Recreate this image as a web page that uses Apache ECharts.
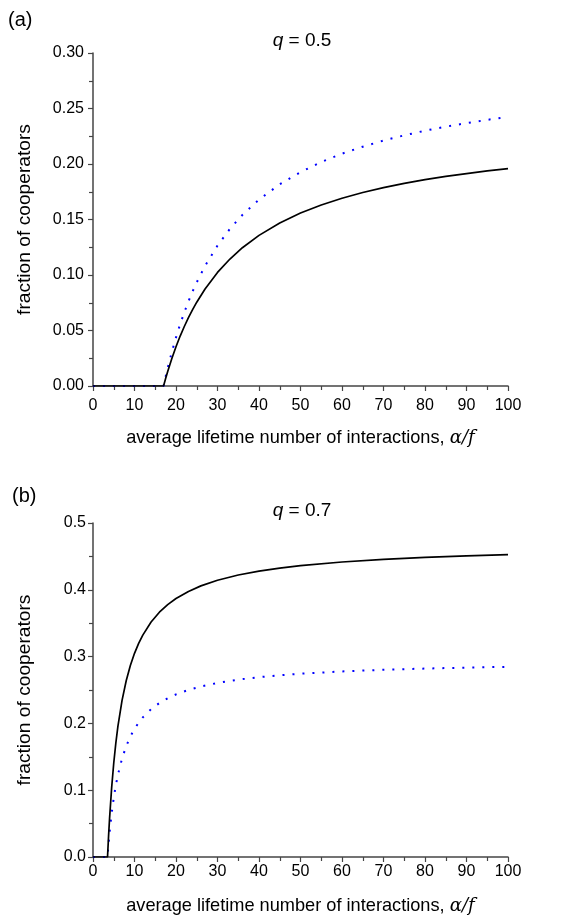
<!DOCTYPE html>
<html>
<head>
<meta charset="utf-8">
<script src="https://cdn.jsdelivr.net/npm/echarts@6/dist/echarts.min.js"></script>
<style>
html,body{margin:0;padding:0;background:#fff;}
#chart{width:563px;height:924px;}
</style>
</head>
<body>
<div id="chart"></div>
<script>
// Panel (a): q = 0.5
var xA = [0, 5, 10, 15, 17, 17.5, 18, 19, 20, 21, 22, 23, 24, 25, 27, 30, 33, 36, 40, 45, 50, 55, 60, 65, 70, 75, 80, 85, 90, 95, 100];
var blackA = [0, 0, 0, 0, 0, 0.0067, 0.0131, 0.0248, 0.0354, 0.0450, 0.0536, 0.0616, 0.0688, 0.0755, 0.0874, 0.1023, 0.1144, 0.1246, 0.1357, 0.1468, 0.1558, 0.1631, 0.1691, 0.1743, 0.1787, 0.1825, 0.1859, 0.1888, 0.1914, 0.1938, 0.1959];
var blueA = [0, 0, 0, 0, 0, 0.0083, 0.0162, 0.0307, 0.0438, 0.0556, 0.0664, 0.0762, 0.0852, 0.0934, 0.1082, 0.1265, 0.1416, 0.1541, 0.1679, 0.1817, 0.1927, 0.2018, 0.2093, 0.2156, 0.2211, 0.2258, 0.2300, 0.2336, 0.2368, 0.2398, 0.2424];
// Panel (b): q = 0.7
var xB = [0, 2, 3.5, 3.75, 4, 4.5, 5, 5.5, 6, 7, 8, 9, 10, 11, 12, 14, 16, 18, 20, 23, 26, 30, 35, 40, 45, 50, 60, 70, 80, 90, 100];
var blackB = [0, 0, 0, 0.0313, 0.0586, 0.1042, 0.1407, 0.1706, 0.1954, 0.2345, 0.2638, 0.2866, 0.3049, 0.3198, 0.3322, 0.3518, 0.3664, 0.3778, 0.3869, 0.3976, 0.4059, 0.4143, 0.4221, 0.4280, 0.4325, 0.4362, 0.4416, 0.4456, 0.4485, 0.4508, 0.4526];
var blueB = [0, 0, 0, 0.0197, 0.0369, 0.0656, 0.0885, 0.1073, 0.1229, 0.1475, 0.1659, 0.1803, 0.1918, 0.2011, 0.2090, 0.2213, 0.2305, 0.2376, 0.2434, 0.2501, 0.2553, 0.2606, 0.2655, 0.2692, 0.2721, 0.2744, 0.2778, 0.2803, 0.2821, 0.2835, 0.2847];

var xTicks = [0, 10, 20, 30, 40, 50, 60, 70, 80, 90, 100];
var yTicksA = [0, 0.05, 0.10, 0.15, 0.20, 0.25, 0.30];
var yTicksB = [0, 0.1, 0.2, 0.3, 0.4, 0.5];
var panelLabels = ['(a)', '(b)'];
var qValues = ['0.5', '0.7'];
var xName = 'average lifetime number of interactions, ';
var yName = 'fraction of cooperators';

function pairs(xs, ys) { return xs.map(function (x, i) { return [x, ys[i]]; }); }

var FONT = '"Liberation Sans", Arial, sans-serif';
var AXC = '#454545';

function xAxisCfg(gi, margin, gap) {
  return {
    gridIndex: gi, type: 'value', min: 0, max: 100, interval: 10,
    name: xName + '{i|α/f}',
    nameLocation: 'middle', nameGap: gap,
    nameTextStyle: { fontFamily: FONT, fontSize: 18.2, color: '#000',
      rich: { i: { fontFamily: '"DejaVu Serif", "Liberation Serif", serif', fontStyle: 'italic', fontSize: 18.2, color: '#000' } } },
    axisLine: { show: true, onZero: false, lineStyle: { color: AXC, width: 1.5 } },
    axisTick: { show: true, inside: false, length: 5, lineStyle: { color: AXC, width: 1.2 } },
    minorTick: { show: true, splitNumber: 2, length: 4, lineStyle: { color: AXC, width: 1.2 } },
    axisLabel: { fontFamily: FONT, fontSize: 16, color: '#000', margin: margin,
      formatter: function (v) { return xTicks.indexOf(v) >= 0 ? String(v) : ''; } },
    splitLine: { show: false }
  };
}
function yAxisCfg(gi, max, interval, ticks, dec, margin) {
  return {
    gridIndex: gi, type: 'value', min: 0, max: max, interval: interval,
    name: yName, nameLocation: 'middle', nameGap: 59, nameRotate: 90,
    nameTextStyle: { fontFamily: FONT, fontSize: 19.2, color: '#000' },
    axisLine: { show: true, onZero: false, lineStyle: { color: AXC, width: 1.5 } },
    axisTick: { show: true, inside: false, length: 5, lineStyle: { color: AXC, width: 1.2 } },
    minorTick: { show: true, splitNumber: 2, length: 4, lineStyle: { color: AXC, width: 1.2 } },
    axisLabel: { fontFamily: FONT, fontSize: 16, color: '#000', margin: margin,
      formatter: function (v) { return v.toFixed(dec); } },
    splitLine: { show: false }
  };
}

var titleStyle = { fontFamily: FONT, fontSize: 20, fontWeight: 'normal', color: '#000' };
function qStyle() {
  return { fontFamily: FONT, fontSize: 19, fontWeight: 'normal', color: '#000',
    rich: { i: { fontFamily: FONT, fontStyle: 'italic', fontSize: 19, color: '#000' } } };
}

var chart = echarts.init(document.getElementById('chart'), null, { renderer: 'canvas' });
chart.setOption({
  animation: false,
  backgroundColor: '#fff',
  title: [
    { text: panelLabels[0], left: 8, top: 10, padding: 0, textStyle: titleStyle },
    { text: '{i|q} = ' + qValues[0], left: 302, top: 31, padding: 0, textAlign: 'center', textStyle: qStyle() },
    { text: panelLabels[1], left: 12, top: 486, padding: 0, textStyle: titleStyle },
    { text: '{i|q} = ' + qValues[1], left: 302, top: 501, padding: 0, textAlign: 'center', textStyle: qStyle() }
  ],
  grid: [
    { left: 93, top: 53, width: 415, height: 333 },
    { left: 93, top: 523, width: 415, height: 334 }
  ],
  xAxis: [xAxisCfg(0, 12, 43), xAxisCfg(1, 7, 40)],
  yAxis: [yAxisCfg(0, 0.30, 0.05, yTicksA, 2, 9), yAxisCfg(1, 0.5, 0.1, yTicksB, 1, 7)],
  series: [
    { type: 'line', xAxisIndex: 0, yAxisIndex: 0, data: pairs(xA, blueA), showSymbol: false, smooth: false,
      lineStyle: { color: '#0000ff', width: 2, type: [2, 8] }, z: 3 },
    { type: 'line', xAxisIndex: 0, yAxisIndex: 0, data: pairs(xA, blackA), showSymbol: false, smooth: false,
      lineStyle: { color: '#000', width: 1.7 }, z: 4 },
    { type: 'line', xAxisIndex: 1, yAxisIndex: 1, data: pairs(xB, blueB), showSymbol: false, smooth: false,
      lineStyle: { color: '#0000ff', width: 2, type: [2, 8] }, z: 3 },
    { type: 'line', xAxisIndex: 1, yAxisIndex: 1, data: pairs(xB, blackB), showSymbol: false, smooth: false,
      lineStyle: { color: '#000', width: 1.7 }, z: 4 }
  ]
});
</script>
</body>
</html>
